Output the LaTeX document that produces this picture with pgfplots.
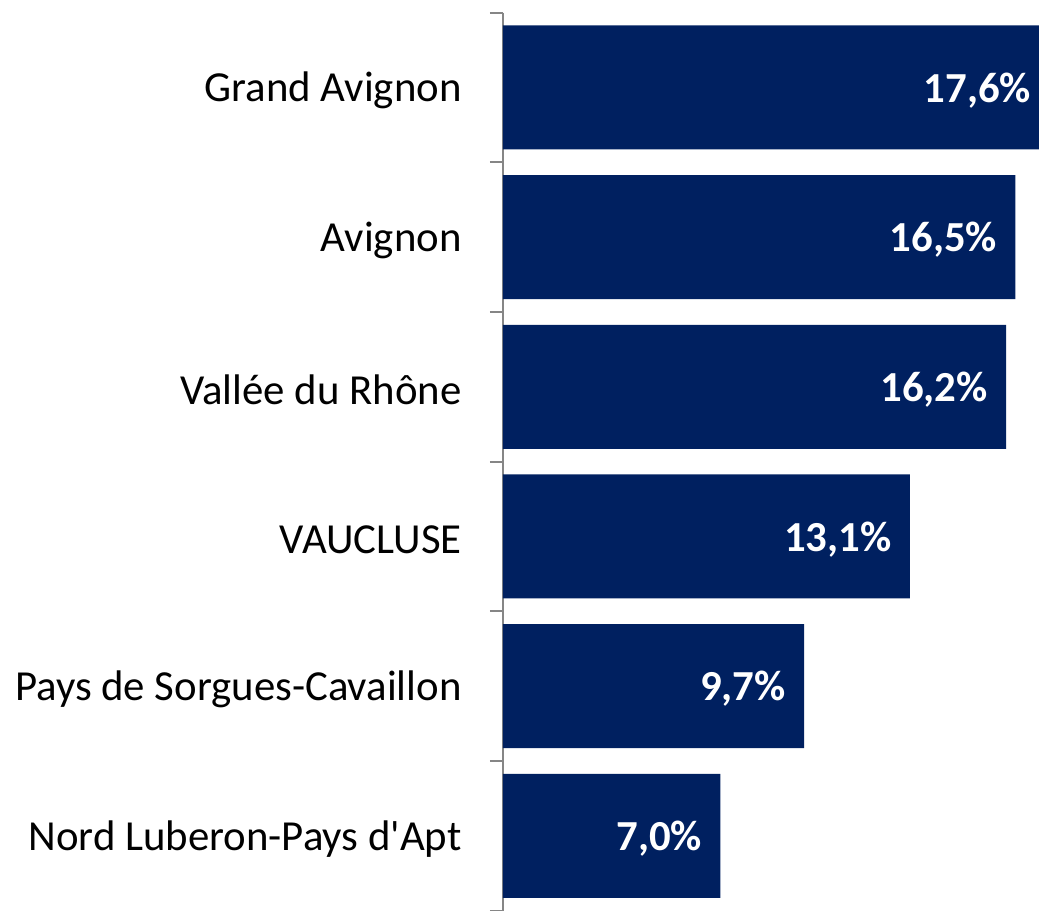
\documentclass[border=0pt]{standalone}
\usepackage{fontspec}
\setmainfont{Carlito}
\usepackage{pgfplots}
\pgfplotsset{compat=1.18}
\definecolor{navy}{HTML}{002060}
\definecolor{axisgray}{HTML}{868686}
\newcommand\chartfont{\fontsize{21.4}{25}\selectfont}
\newcommand\apos{\XeTeXglyph\XeTeXcharglyph"27\relax}
\begin{document}
\begin{tikzpicture}
\begin{axis}[
    xbar,
    scale only axis,
    clip=false,
    width=268pt,
    height=449pt,
    xmin=0, xmax=17.26,
    ymin=0.5, ymax=6.5,
    y dir=reverse,
    axis x line=none,
    axis y line*=left,
    y axis line style={axisgray, line width=1pt},
    ytick={1,2,3,4,5,6},
    yticklabels={Grand Avignon, Avignon, Vallée du Rhône, VAUCLUSE, Pays de Sorgues-Cavaillon, Nord Luberon-Pays d\apos Apt},
    major tick length=0pt,
    extra y ticks={0.5,1.5,2.5,3.5,4.5,5.5,6.5},
    extra y tick labels={},
    extra y tick style={tick align=outside, major tick length=6.5pt, tick style={axisgray, line width=1pt}},
    yticklabel style={font=\chartfont, inner sep=0pt, yshift=-1.5pt},
    yticklabel shift=20.5pt,
    bar width=62pt,
    nodes near coords={\pgfmathprintnumber[fixed, fixed zerofill, precision=1, use comma, assume math mode=true]{\pgfplotspointmeta}\%},
    every node near coord/.append style={font=\chartfont\bfseries, text=white, anchor=east, inner sep=0pt, xshift=-9pt, yshift=-1.5pt},
]
\addplot[fill=navy, draw=none] coordinates {
    (17.6,1) (16.5,2) (16.2,3) (13.1,4) (9.7,5) (7.0,6)
};
\end{axis}
\pgfresetboundingbox
\path (current axis.south west) ++(-251.5pt,0) rectangle ([yshift=6.3pt]current axis.north east);
\end{tikzpicture}
\end{document}
